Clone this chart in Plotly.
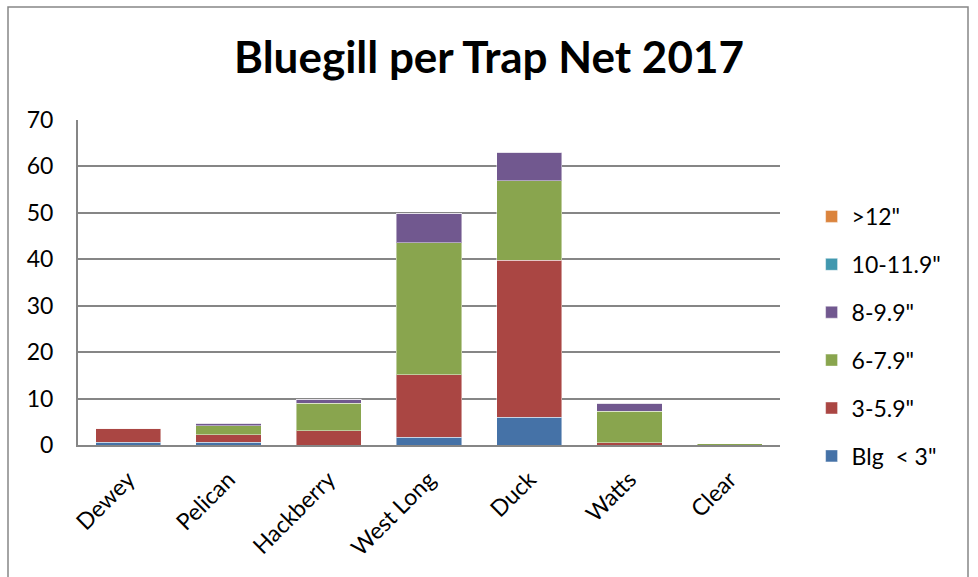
import plotly.graph_objects as go

lakes = ["Dewey", "Pelican", "Hackberry", "West Long", "Duck", "Watts", "Clear"]

blg_lt3 = [0.6, 0.6, 0.0, 1.7, 6.0, 0.0, 0.0]
len_3_59 = [3.0, 1.6, 3.1, 13.4, 33.8, 0.5, 0.0]
len_6_79 = [0.0, 1.9, 5.9, 28.5, 17.1, 6.8, 0.3]
len_8_99 = [0.0, 0.6, 0.9, 6.3, 6.2, 1.7, 0.0]
len_10_119 = [0.0, 0.0, 0.0, 0.0, 0.0, 0.0, 0.0]
len_gt12 = [0.0, 0.0, 0.0, 0.0, 0.0, 0.0, 0.0]

series = [
    ("Blg  < 3\"", blg_lt3, "#4572A7"),
    ("3-5.9\"", len_3_59, "#AA4643"),
    ("6-7.9\"", len_6_79, "#89A54E"),
    ("8-9.9\"", len_8_99, "#71588F"),
    ("10-11.9\"", len_10_119, "#4198AF"),
    ("&gt;12\"", len_gt12, "#DB843D"),
]

FONT = "Lato, 'Open Sans', sans-serif"

fig = go.Figure()
for i, (name, vals, color) in enumerate(series):
    fig.add_trace(go.Bar(
        x=lakes, y=vals, name=name, legendgroup=str(i), legendrank=100 - i,
        marker=dict(color=color, line=dict(color="rgba(255,255,255,0.45)", width=1)),
    ))

fig.update_layout(
    width=978, height=577,
    margin=dict(l=78, r=198, t=120, b=132),
    paper_bgcolor="white", plot_bgcolor="white",
    barmode="stack", bargap=0.35,
    font=dict(family=FONT, size=23, color="black"),
    title=dict(text="<b>Bluegill per Trap Net 2017</b>", x=0.5, xanchor="center",
               y=0.9, yanchor="middle", font=dict(size=44, family=FONT)),
    legend=dict(x=1.045, xanchor="left", y=0.334, yanchor="middle",
                traceorder="grouped", tracegroupgap=15,
                font=dict(size=23), itemwidth=30),
    xaxis=dict(tickangle=-45, showline=True, linecolor="#868686", linewidth=2,
               ticks="", tickfont=dict(size=23), ticklabelstandoff=10),
    yaxis=dict(range=[0, 70], dtick=10, showgrid=True, gridcolor="#868686", gridwidth=1.5,
               showline=True, linecolor="#868686", linewidth=2, zeroline=False,
               ticks="", tickfont=dict(size=23), ticklabelstandoff=18),
    shapes=[dict(type="rect", xref="paper", yref="paper",
                 x0=-70 / 702, x1=890 / 702, y0=-1.0, y1=(577 - 7 - 132) / 325,
                 line=dict(color="#868686", width=1.5), fillcolor="rgba(0,0,0,0)", layer="below")],
)

fig.write_html("out.html")
